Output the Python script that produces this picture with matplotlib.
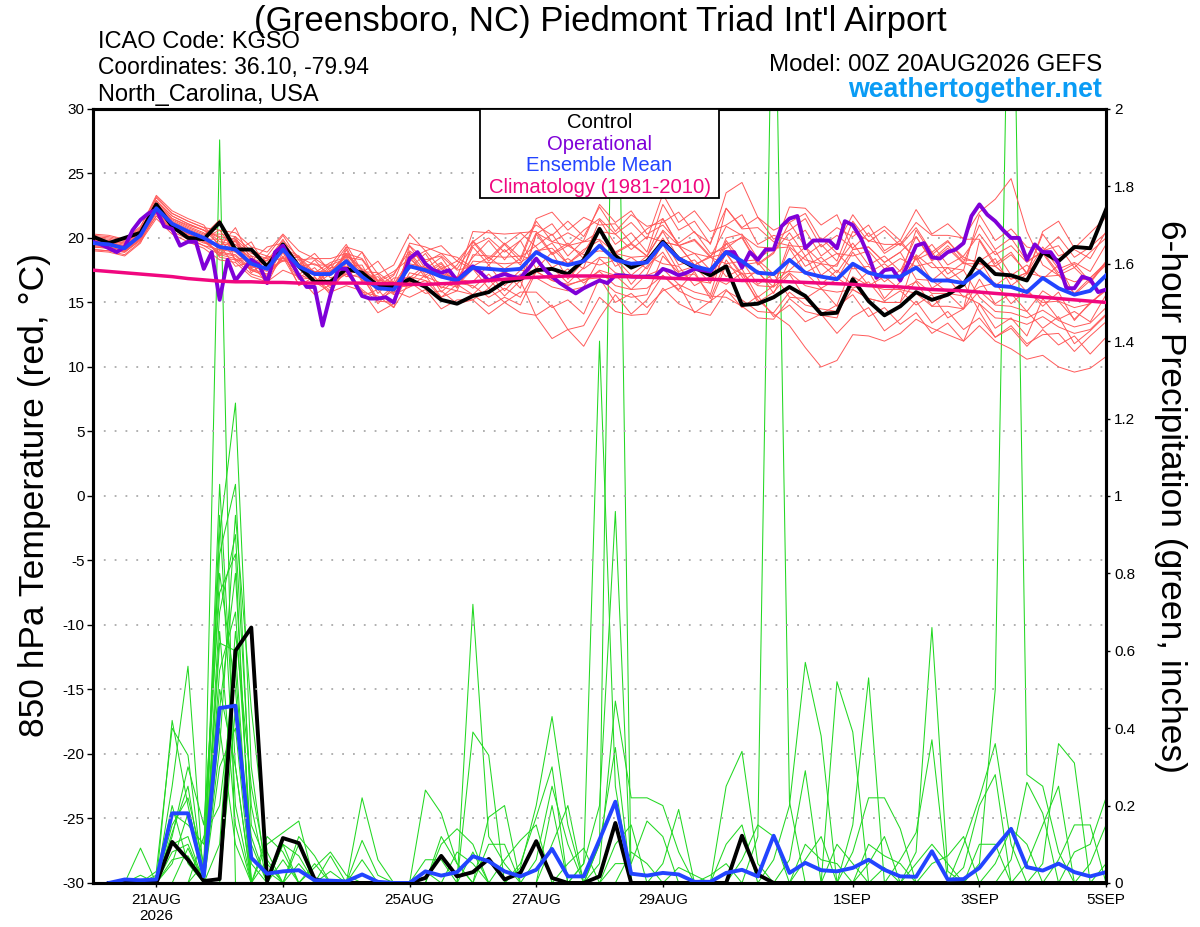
import numpy as np
import pandas as pd
import matplotlib
matplotlib.use("Agg")
import matplotlib.pyplot as plt
from matplotlib.patches import Rectangle

plt.rcParams["font.family"] = ["Liberation Sans", "DejaVu Sans"]
plt.rcParams["axes.unicode_minus"] = False

# GEFS run 00Z 20AUG2026: members every 6 h, operational every 3 h
times = pd.date_range("2026-08-20 00:00", periods=65, freq="6h")
op_times = pd.date_range("2026-08-20 00:00", periods=129, freq="3h")

def vals(s):
    return np.array(s.split(), dtype=float)

# 850 hPa temperature (C)
control_t = vals("20.1 19.6 20.0 20.4 22.6 20.9 20.0 19.9 21.2 19.1 19.1 17.8 19.5 17.8 16.6 16.6 17.6 17.3 16.3 16.2 "
                 "16.8 16.2 15.2 14.9 15.5 15.8 16.6 16.8 17.5 17.6 17.2 18.3 20.7 18.6 17.7 18.2 19.7 18.4 17.7 17.1 "
                 "17.8 14.8 14.9 15.4 16.2 15.5 14.1 14.2 16.8 15.1 14.0 14.7 15.8 15.2 15.6 16.4 18.4 17.2 17.1 16.7 "
                 "18.9 18.2 19.3 19.2 22.2")
mean_t = vals("19.6 19.5 19.2 20.2 22.3 21.1 20.5 20.0 19.3 19.1 18.0 17.6 19.1 17.8 17.2 17.2 18.2 17.0 16.1 16.0 "
              "17.8 17.5 17.0 16.7 17.7 17.6 17.5 17.6 18.9 18.2 17.9 18.2 19.4 18.3 18.0 18.1 19.6 18.4 17.8 17.5 "
              "18.9 18.2 17.3 17.2 18.3 17.3 17.0 16.8 18.0 17.3 17.0 17.0 17.7 16.7 16.7 16.5 17.4 16.3 16.2 15.8 "
              "16.9 16.1 15.6 15.9 17.1")
clim_t = vals("17.5 17.4 17.3 17.2 17.1 17.0 16.85 16.75 16.65 16.6 16.6 16.55 16.55 16.5 16.5 16.5 16.5 16.5 16.45 16.45 "
              "16.4 16.4 16.45 16.5 16.6 16.7 16.8 16.9 16.95 17.0 17.05 17.05 17.05 17.0 17.0 16.95 16.9 16.85 16.8 16.8 "
              "16.75 16.7 16.7 16.65 16.6 16.55 16.5 16.45 16.4 16.3 16.25 16.2 16.1 16.0 15.95 15.9 15.8 15.7 15.6 15.5 "
              "15.4 15.3 15.2 15.1 15.0")
oper_t = vals("19.7 19.5 19.2 18.9 19.3 20.6 21.4 21.9 22.2 20.9 20.7 19.4 19.7 19.7 17.6 18.9 15.2 18.3 16.7 17.5 "
              "18.3 17.9 16.5 18.9 19.4 18.2 17.1 16.2 16.2 13.2 15.6 17.6 17.6 16.6 15.5 15.3 15.3 15.4 15.0 16.7 "
              "18.4 18.9 18.0 17.5 17.3 17.5 16.7 17.3 17.8 17.3 16.7 17.0 17.2 17.0 16.9 17.6 18.4 17.6 17.0 16.5 "
              "16.1 15.7 16.1 16.4 16.7 16.5 17.1 17.1 17.0 17.0 17.0 17.0 17.6 17.4 17.1 17.3 17.6 17.5 17.4 18.2 "
              "18.9 18.9 17.7 18.9 18.3 19.1 19.1 20.9 21.5 21.7 19.2 19.8 19.8 19.8 19.2 21.3 21.0 20.0 18.6 16.9 "
              "17.5 17.6 16.7 18.0 19.4 19.6 18.5 18.4 18.9 19.1 19.6 21.7 22.6 21.8 21.3 20.6 20.0 20.0 18.3 19.5 "
              "18.9 18.9 18.0 16.1 16.1 17.0 16.8 15.8 16.0")

member_t = [
    "19.9 19.7 19.6 20.5 22.9 21.5 21.0 20.6 19.5 19.5 18.3 17.9 19.2 18.6 17.3 18.1 18.5 18.3 16.6 17.2 19.0 18.1 18.8 17.6 19.4 20.0 18.9 19.8 21.0 20.2 21.3 20.1 22.4 20.5 21.8 20.9 21.2 22.0 20.4 19.6 22.3 20.8 21.6 19.9 20.6 21.5 19.3 20.2 19.2 20.4 18.8 19.6 18.4 19.5 17.9 18.6 20.3 18.7 19.4 18.1 19.0 20.1 18.5 19.3 20.4",
    "19.1 19.0 18.9 19.8 21.7 20.7 20.0 19.4 18.7 18.4 17.5 17.0 18.6 16.8 16.9 15.9 17.5 15.8 15.5 14.6 16.6 15.7 15.9 14.9 15.2 16.1 15.0 15.8 15.8 14.6 15.2 14.1 16.9 15.0 15.7 14.6 15.9 16.4 14.2 15.1 16.0 14.6 15.5 13.9 14.8 13.5 14.1 12.6 13.9 14.6 12.8 13.7 15.1 13.4 14.3 12.9 13.8 12.3 13.0 11.6 12.9 11.7 12.4 11.0 12.3",
    "19.8 19.6 19.4 20.4 23.2 21.9 21.3 20.8 20.6 18.9 19.7 17.6 18.2 18.6 16.4 17.5 17.6 18.9 16.2 17.1 19.4 17.6 18.5 16.8 16.6 17.9 16.3 17.5 17.4 16.7 16.3 16.8 16.9 15.8 15.4 15.6 18.6 17.3 16.7 16.5 18.8 17.0 15.2 14.1 13.2 11.5 10.0 10.5 12.5 12.4 12.0 12.6 13.7 13.0 12.5 12.0 13.2 12.0 11.4 10.6 10.9 10.0 9.6 9.9 10.8",
    "20.2 20.1 19.8 20.8 23.3 22.1 21.5 21.0 19.3 20.8 18.2 19.3 19.6 17.9 18.8 17.4 18.7 17.3 18.2 16.5 17.6 18.8 16.9 17.9 19.8 18.4 19.6 18.5 19.4 20.3 18.6 19.8 22.6 21.2 22.1 20.3 21.0 19.6 20.5 18.8 19.2 20.1 18.0 18.9 20.4 18.6 19.5 18.2 21.3 19.7 20.6 19.4 20.8 18.9 19.8 18.3 18.2 19.0 17.1 17.9 16.8 17.9 15.6 16.7 17.9",
    "19.1 19.0 18.7 19.7 21.5 20.3 19.7 19.2 18.3 18.1 17.0 16.6 17.5 17.0 15.6 16.4 17.2 16.9 15.2 15.9 15.4 16.0 14.5 15.2 15.2 14.1 15.0 14.2 14.0 14.8 12.9 11.6 13.8 15.6 14.1 15.2 17.1 16.0 17.4 15.3 18.3 16.6 17.5 15.7 18.2 19.3 17.1 18.0 19.6 17.9 18.6 17.4 20.1 18.3 19.4 18.1 21.0 19.1 20.0 18.2 18.9 17.3 18.0 16.6 18.2",
    "19.7 19.6 19.3 20.3 22.0 20.8 20.2 19.7 18.8 19.9 17.6 18.5 18.9 17.1 18.3 16.9 17.3 17.4 15.2 16.3 16.2 17.1 15.4 16.4 15.6 16.8 15.5 16.7 13.9 12.2 12.9 13.2 15.4 14.3 14.0 14.1 16.1 14.9 14.3 14.0 15.9 15.2 14.3 14.2 15.8 14.8 14.5 14.3 16.0 15.3 15.0 15.0 16.7 15.7 15.7 15.5 14.9 13.8 13.7 13.3 13.9 13.1 12.6 12.9 14.1",
    "20.1 20.0 19.7 20.7 22.6 21.4 20.8 20.3 20.3 20.1 19.0 18.6 20.2 18.3 18.4 17.6 19.3 18.9 17.2 17.9 20.3 19.0 19.4 18.2 19.7 20.6 19.5 20.4 20.5 18.8 19.6 18.4 21.4 19.5 20.4 18.9 22.6 20.6 21.3 19.5 23.5 24.3 21.6 20.6 21.2 21.9 19.8 20.8 20.1 21.0 19.0 19.8 22.2 20.3 21.1 19.9 19.9 18.0 18.9 17.2 18.8 17.1 17.7 16.5 18.1",
    "19.4 19.3 19.0 20.0 22.5 21.3 20.7 20.2 21.4 18.2 18.4 16.8 19.3 16.8 17.4 16.1 19.1 16.7 17.0 15.7 18.9 17.4 18.1 16.6 19.3 17.9 19.1 17.9 20.4 19.7 19.4 19.7 19.9 18.8 18.5 18.6 20.6 19.4 18.8 18.5 20.9 20.2 19.3 19.2 19.3 18.3 18.0 17.8 20.5 19.8 19.5 19.5 21.2 20.2 20.2 20.0 22.0 23.0 24.6 20.5 17.9 17.1 16.6 16.9 18.1",
    "19.6 19.5 19.2 20.2 22.1 20.9 20.3 19.8 18.8 18.6 17.5 17.1 18.5 17.2 16.6 16.6 17.2 16.0 15.1 15.0 17.3 17.0 16.5 16.2 18.2 18.1 18.0 18.1 18.9 19.6 18.0 18.9 20.8 18.9 19.6 18.6 18.0 17.8 16.3 17.0 16.4 17.3 15.0 15.8 17.2 15.3 16.1 14.7 15.6 13.9 14.6 13.3 14.2 12.6 13.4 12.0 14.9 13.0 13.8 12.4 15.3 13.7 14.3 13.5 15.6",
    "20.0 19.9 19.6 20.6 22.9 21.7 21.1 20.6 20.1 19.9 18.8 18.4 19.0 18.5 17.1 17.9 19.5 17.4 17.3 16.4 18.3 19.0 17.6 18.2 17.6 16.8 17.4 16.7 20.3 21.1 19.4 20.6 21.5 20.3 21.2 19.9 23.4 21.2 22.1 20.5 21.0 21.8 19.5 20.2 19.8 20.6 18.6 19.5 21.8 20.1 20.9 19.8 18.3 18.9 17.2 18.1 17.5 18.4 16.3 17.2 20.5 21.3 19.2 20.4 21.6",
    "19.3 19.2 18.9 19.9 21.7 20.5 19.9 19.4 19.1 18.9 17.8 17.4 19.3 18.0 17.4 17.4 18.7 17.5 16.6 16.5 17.0 16.7 16.2 15.9 18.7 18.6 18.5 18.6 18.3 16.8 17.6 16.5 17.5 17.1 16.0 17.2 19.7 19.4 17.9 18.6 17.0 17.6 15.4 16.3 19.2 17.3 18.0 16.9 16.1 16.6 15.1 15.9 14.8 15.6 13.8 14.5 16.8 14.9 15.7 14.3 13.0 13.9 11.8 12.8 14.0",
    "19.8 19.7 19.4 20.4 22.4 21.2 20.6 20.1 18.5 18.3 17.2 16.8 18.5 16.4 16.6 15.8 16.3 15.9 14.2 14.9 19.4 18.3 18.6 17.5 17.8 18.5 17.6 18.4 21.5 22.0 20.6 21.6 21.0 21.1 19.6 20.7 21.5 19.4 19.9 18.6 19.5 20.0 17.9 18.8 21.2 19.3 20.0 18.8 18.6 19.0 17.6 18.4 17.8 18.1 16.8 17.5 21.8 19.8 20.7 19.3 19.0 19.4 17.7 18.9 20.0",
    "19.5 19.4 19.1 20.1 22.7 21.5 20.9 20.4 19.0 20.1 17.7 18.6 18.2 18.3 16.4 17.7 17.8 17.9 15.7 16.9 16.9 17.9 16.1 17.0 16.1 17.2 15.9 17.2 16.9 16.2 15.9 16.2 18.4 17.3 17.0 17.1 17.6 16.4 15.8 15.5 15.4 14.7 13.8 13.7 15.3 14.3 14.0 13.8 17.0 16.3 16.0 16.0 15.7 14.7 14.7 14.5 15.9 14.8 14.7 14.3 15.9 15.1 14.6 14.9 16.1",
    "20.3 20.2 19.9 20.9 23.1 21.9 21.3 20.8 19.7 19.5 18.4 18.0 19.8 18.5 17.9 17.9 18.4 17.2 16.3 16.2 18.0 17.7 17.2 16.9 20.5 20.4 20.3 20.4 19.3 17.7 18.4 17.6 18.5 18.4 17.1 18.1 20.0 17.9 18.3 17.0 20.0 20.3 18.4 19.2 22.4 22.3 21.0 21.8 19.1 19.3 18.1 18.9 16.8 16.7 15.8 16.5 18.3 16.3 17.2 15.8 15.0 15.1 13.7 14.9 16.0",
    "19.0 18.9 18.6 19.6 22.1 20.9 20.3 19.8 18.9 18.7 17.6 17.2 18.3 17.8 16.4 17.2 18.6 16.6 16.5 15.6 16.2 16.7 15.4 15.9 15.6 14.7 15.4 14.8 17.4 16.7 16.4 16.7 17.4 16.3 16.0 16.1 17.1 15.9 15.3 15.0 17.9 17.2 16.3 16.2 17.3 16.3 16.0 15.8 16.0 15.3 15.0 15.0 18.7 17.7 17.7 17.5 15.4 14.3 14.2 13.8 14.4 13.6 13.1 13.4 14.6",
    "19.7 19.6 19.3 20.3 22.3 21.1 20.5 20.0 20.6 20.4 19.3 18.9 20.3 19.0 18.4 18.4 18.8 17.6 16.7 16.6 19.6 19.3 18.8 18.5 17.7 17.6 17.5 17.6 19.0 19.2 18.0 19.1 19.8 17.8 18.5 17.6 19.5 17.4 17.8 16.5 19.8 18.2 18.3 17.2 17.4 17.3 16.1 16.8 18.9 17.3 18.0 17.0 20.6 18.7 19.7 18.5 18.0 17.8 16.8 17.3 17.0 17.1 15.7 16.9 18.0",
    "19.4 19.3 19.0 20.0 21.9 20.7 20.1 19.6 19.4 17.8 18.1 16.4 18.9 16.3 17.0 15.6 18.1 15.5 16.0 14.6 18.8 17.1 18.0 16.3 17.6 16.1 17.4 16.1 20.3 18.7 19.4 18.7 19.0 18.8 17.6 18.6 21.5 19.4 19.8 18.5 18.0 18.2 16.4 17.2 15.4 15.3 14.1 14.8 17.9 16.3 17.0 16.0 16.6 14.7 15.7 14.5 19.8 17.8 18.7 17.3 20.3 18.6 19.1 18.4 20.5",
    "19.9 19.8 19.5 20.5 22.3 21.1 20.5 20.0 18.6 19.8 17.3 18.3 18.4 18.5 16.5 17.9 17.0 17.2 14.9 16.2 16.6 17.7 15.8 16.9 18.5 19.8 18.3 19.8 17.6 18.9 16.8 18.2 17.9 18.3 16.4 17.8 18.9 17.0 17.2 15.6 19.6 17.9 18.1 16.6 17.5 18.6 16.4 17.5 16.3 17.4 15.3 16.6 18.4 16.1 16.9 15.4 16.2 16.5 14.9 16.0 14.7 15.8 13.6 15.0 15.9",
    "19.3 19.2 18.9 19.9 22.2 21.0 20.4 19.9 19.9 19.7 18.6 18.2 19.9 17.8 18.0 17.2 18.8 18.4 16.7 17.4 18.4 17.3 17.6 16.5 16.3 15.4 16.1 15.4 17.5 17.7 16.5 17.7 20.8 18.8 19.5 18.6 20.5 18.4 18.8 17.5 22.3 20.7 20.8 19.7 19.4 19.3 18.1 18.8 17.6 17.8 16.6 17.5 18.6 16.7 17.7 16.5 14.3 12.3 13.2 11.8 12.5 12.6 11.2 12.4 13.5",
    "19.6 19.5 19.2 20.2 22.9 21.7 21.1 20.6 20.0 18.3 18.6 16.8 19.6 16.9 17.7 16.3 19.3 16.7 17.2 15.7 18.6 16.9 17.8 16.1 19.7 18.2 19.5 18.2 21.3 19.7 20.4 19.7 20.5 20.3 19.1 20.1 19.7 19.4 17.9 18.5 18.8 17.2 17.3 16.2 19.7 17.8 18.5 17.3 19.1 19.3 18.1 18.9 20.1 18.2 19.2 18.0 18.0 17.8 16.8 17.3 19.3 17.6 18.1 17.4 19.5",
]

# 6-hour precipitation (inches)
control_p = vals("0 0 0 0 0 .106 .06 .005 .01 .6 .66 .005 .116 .103 .01 0 0 0 0 0 "
                 "0 .013 .07 .017 .028 .062 .009 .026 .108 .013 0 0 .017 .155 0 0 0 0 0 0 "
                 "0 .122 .022 0 0 0 0 0 0 0 0 0 0 0 0 0 0 0 0 0 0 0 0 0 0")
mean_p = vals("0 0 .009 .007 .009 .18 .18 .017 .452 .458 .065 .024 .03 .033 .007 .006 .004 .022 .003 0 "
              "0 .03 .019 .028 .069 .056 .03 .017 .034 .088 .017 .017 .112 .21 .024 .019 .026 .022 .003 .003 "
              ".026 .034 .017 .122 .026 .052 .033 .03 .039 .06 .034 .017 .016 .082 .009 .01 .039 .091 .14 .041 "
              ".032 .05 .028 .017 .028")

member_p = [
    "0 0 0 .09 0 .42 .2 .02 1.92 0 0 0 0 0 0 0 0 0 0 0 0 0 0 0 .72 .12 .05 0 0 0 0 0 0 0 0 0 0 0 0 0 0 0 0 0 0 0 0 0 .08 .22 .22 .14 0 0 0 0 0 0 0 0 0 0 0 .05 .15",
    "0 0 0 0 .03 .4 .33 0 1.03 .3 0 .1 .13 .16 0 .07 0 0 0 0 0 0 0 0 0 0 0 .04 .2 .43 .15 0 0 0 0 0 0 0 0 0 0 0 0 0 0 0 0 0 0 0 .04 0 .08 .66 .03 0 0 0 0 0 0 0 0 0 0",
    "0 0 0 0 0 .25 .56 0 .9 1.24 .3 0 0 .1 0 0 0 0 0 0 0 0 0 0 0 0 0 0 0 .1 .2 0 0 0 0 0 0 0 0 0 0 0 0 .06 .2 .57 .38 0 0 0 0 0 0 0 0 0 0 0 0 0 0 0 0 0 0",
    "0 0 0 0 0 .18 .15 .1 .85 1.03 .15 .05 0 0 0 0 0 .22 .06 0 0 0 0 0 0 0 0 0 0 0 0 .05 1.4 .25 0 0 0 0 0 0 0 0 0 0 0 0 0 .52 .39 0 0 0 0 0 0 0 0 0 0 0 0 0 0 0 0",
    "0 0 0 .02 0 .15 .22 .05 .8 .5 0 0 .1 0 0 0 0 0 0 0 0 .24 .18 .05 0 0 0 0 0 0 0 0 .1 2.7 0 0 0 0 0 0 0 0 0 0 0 0 0 0 0 0 0 0 0 0 0 0 .05 .5 2.8 .28 .25 .08 0 0 0",
    "0 0 0 0 0 .12 .3 .15 .75 .85 0 0 0 .12 .07 0 0 0 0 0 0 0 0 0 .39 .33 0 0 0 0 0 0 0 .1 .15 0 0 0 0 0 0 0 .12 2.6 .21 0 0 0 0 0 0 0 0 0 0 0 0 0 0 0 0 0 0 0 0",
    "0 0 0 0 .02 .1 .12 0 .7 .9 .2 0 0 0 0 0 0 0 0 0 0 0 .1 .14 .1 0 0 0 0 0 0 0 0 0 0 0 .05 .19 0 0 0 0 0 0 0 0 0 0 0 0 0 .06 .13 .37 0 0 0 0 0 0 0 0 0 0 0",
    "0 0 0 0 0 .08 .1 0 .62 .6 0 .12 .08 0 0 0 0 0 0 0 0 0 0 0 0 .17 .2 0 0 0 0 0 0 0 0 0 0 0 0 0 .25 .34 .05 0 0 0 0 0 0 0 0 0 0 0 0 0 0 0 .06 .26 .18 0 0 0 0",
    "0 0 0 0 0 .06 .07 0 .55 .7 .1 0 0 .05 0 0 0 .11 .02 0 0 0 0 0 0 0 0 .05 .17 .3 0 0 0 0 0 0 0 0 0 0 0 0 0 0 .06 .29 0 0 0 0 0 0 0 0 0 0 0 0 0 0 .05 .36 .31 0 0",
    "0 0 0 0 0 .05 .18 0 .45 .8 .05 0 0 0 .04 .08 .02 0 0 0 0 0 0 0 0 0 0 0 .06 .25 .1 0 0 0 0 0 0 0 0 0 0 0 0 0 0 .1 .06 .05 0 0 0 0 0 0 0 0 0 0 0 0 0 .06 .15 .15 0",
    "0 0 0 0 0 .2 .05 0 .35 .95 .45 .08 0 0 0 0 0 0 0 0 0 .06 .06 0 0 0 0 0 0 0 0 .05 .2 .96 0 0 0 0 0 0 0 0 0 0 0 0 0 0 .15 .53 0 0 0 0 0 0 0 0 0 0 0 0 0 0 .05",
    "0 0 0 0 0 .13 .25 0 .3 .4 0 0 .06 0 0 0 0 0 0 0 0 0 0 .08 .05 0 0 0 0 0 0 0 .05 .47 .22 .22 .2 .08 0 0 0 0 0 0 0 0 0 0 0 0 0 0 0 0 0 0 0 0 0 0 0 0 0 0 0",
    "0 0 0 0 0 0 .09 0 .95 .2 0 0 0 0 .05 0 0 0 0 0 0 0 .12 .05 0 0 0 0 0 0 0 0 0 .05 .05 .16 .12 0 0 0 0 0 0 0 0 0 0 0 0 0 0 0 0 0 0 .1 .22 .36 .1 0 0 0 0 0 0",
    "0 0 0 0 0 0 0 .12 .2 .55 0 0 0 0 0 .03 0 0 0 0 0 0 0 0 0 .1 .1 0 0 0 0 0 0 0 0 0 0 .04 .02 0 0 0 0 0 0 0 0 0 0 .05 .12 0 0 0 0 0 0 0 0 0 0 0 .08 .1 .22",
    "0 0 0 0 0 0 0 .05 .5 .3 0 0 0 0 0 0 0 .06 0 0 0 0 0 0 .08 0 0 0 0 0 0 0 0 0 0 0 0 0 0 .02 .05 0 0 0 0 0 0 0 0 0 0 0 .05 .1 .05 0 0 0 0 0 0 0 0 0 0",
    "0 0 0 0 0 0 0 0 .1 .65 .25 .03 0 0 0 0 0 0 0 0 0 0 0 0 0 0 .06 .11 .15 0 0 0 0 0 0 0 0 0 0 0 .1 .15 0 0 0 0 0 0 0 0 0 0 0 .05 .07 .12 0 0 0 0 0 0 0 0 0",
    "0 0 0 0 0 0 0 0 .65 .15 0 0 .1 .07 0 0 0 0 0 0 0 0 0 0 0 0 0 0 0 .2 0 0 0 0 0 0 0 0 0 0 0 .06 .15 .12 0 0 0 0 0 0 0 0 0 0 0 .04 .2 .28 0 0 0 0 0 0 0",
    "0 0 0 0 0 0 0 0 .4 .1 0 0 0 0 0 0 0 0 0 0 0 .03 0 0 0 0 0 0 0 0 .05 .09 0 0 0 0 0 0 0 0 0 0 0 0 0 .06 .12 0 0 0 0 0 0 0 0 0 .1 .1 0 0 0 0 0 0 0",
    "0 0 0 0 0 0 0 0 0 .45 .12 0 0 0 0 0 0 0 0 0 0 0 0 0 0 0 0 0 0 0 0 0 .1 .35 0 0 0 0 0 0 0 0 0 0 0 0 0 .1 .05 0 0 0 0 0 0 0 0 .05 .14 .1 0 0 0 0 0",
    "0 0 0 0 0 0 0 0 0 0 0 .06 0 0 0 0 0 0 0 0 0 0 0 0 0 0 0 0 0 0 0 0 0 0 .08 .05 0 0 0 0 0 0 0 0 0 0 0 0 0 .1 .07 .05 0 0 0 0 0 0 0 .05 .15 .25 0 0 0",
]

tick_dates = pd.to_datetime(["2026-08-21", "2026-08-23", "2026-08-25", "2026-08-27",
                             "2026-08-29", "2026-09-01", "2026-09-03", "2026-09-05"])
tick_labels = ["21AUG\n2026", "23AUG", "25AUG", "27AUG", "29AUG", "1SEP", "3SEP", "5SEP"]
precip_ticks = [0, 0.2, 0.4, 0.6, 0.8, 1.0, 1.2, 1.4, 1.6, 1.8, 2.0]
precip_labels = ["0", "0.2", "0.4", "0.6", "0.8", "1", "1.2", "1.4", "1.6", "1.8", "2"]

RED = "#ff5a5a"
GREEN = "#22d822"
PURPLE = "#7f00d8"
BLUE = "#2244ff"
PINK = "#f0077f"

fig = plt.figure(figsize=(12, 9.27), dpi=100)
ax = fig.add_axes([0.0775, 0.0475, 0.8442, 0.8350])
ax2 = ax.twinx()
ax.set_zorder(2)
ax2.set_zorder(1)
ax.patch.set_visible(False)

# precipitation (right axis)
for s in member_p:
    ax2.plot(times[1:], vals(s)[1:], color=GREEN, lw=0.75, zorder=2)
ax2.plot(times[1:], control_p[1:], color="black", lw=2.8, zorder=5)
ax2.plot(times[1:], mean_p[1:], color=BLUE, lw=2.8, zorder=6)

# temperature (left axis)
for s in member_t:
    ax.plot(times, vals(s), color=RED, lw=0.7, zorder=2)
ax.plot(times, control_t, color="black", lw=2.8, zorder=5)
ax.plot(op_times, oper_t, color=PURPLE, lw=2.8, zorder=6)
ax.plot(times, mean_t, color=BLUE, lw=2.8, zorder=7)
ax.plot(times, clim_t, color=PINK, lw=2.5, zorder=8)

ax.set_xlim(times[0], times[-1])
ax.set_ylim(-30, 30)
ax2.set_ylim(0, 2)
ax.set_yticks(range(-30, 31, 5))
ax.set_xticks(tick_dates, tick_labels)
ax2.set_yticks(precip_ticks, precip_labels)
ax.grid(axis="y", color="#aaaaaa", linestyle=(0, (1, 5)), lw=1.3)

ax.tick_params(axis="y", direction="out", length=4.5, width=1, labelsize=11, pad=1.5)
ax.tick_params(axis="x", direction="out", length=3, width=1, labelsize=11, pad=4)
ax2.tick_params(axis="y", direction="out", length=3, width=1, labelsize=11, pad=3)
for a in (ax, ax2):
    for sp in a.spines.values():
        sp.set_linewidth(2.2)

# legend box
ax.add_patch(Rectangle((0.382, 0.885), 0.236, 0.115, transform=ax.transAxes,
                       facecolor="white", edgecolor="black", lw=1.3, zorder=20, clip_on=False))
legend_items = [("Control", "black"), ("Operational", PURPLE),
                ("Ensemble Mean", BLUE), ("Climatology (1981-2010)", PINK)]
for k, (txt, col) in enumerate(legend_items):
    ax.text(0.5, 0.982 - 0.0277 * k, txt, color=col, fontsize=14.6, ha="center", va="center",
            transform=ax.transAxes, zorder=21)

fig.text(0.5, 1 - 31 / 927, "(Greensboro, NC) Piedmont Triad Int'l Airport",
         ha="center", va="baseline", fontsize=25)
fig.text(98 / 1200, 1 - 48 / 927, "ICAO Code: KGSO", ha="left", va="baseline", fontsize=17)
fig.text(98 / 1200, 1 - 74 / 927, "Coordinates: 36.10, -79.94", ha="left", va="baseline", fontsize=16.5)
fig.text(98 / 1200, 1 - 101 / 927, "North_Carolina, USA", ha="left", va="baseline", fontsize=17)
fig.text(1102 / 1200, 1 - 71 / 927, "Model: 00Z 20AUG2026 GEFS", ha="right", va="baseline", fontsize=17.4)
fig.text(1102 / 1200, 1 - 97 / 927, "weathertogether.net", ha="right", va="baseline",
         fontsize=19.3, fontweight="bold", color="#0a9cf5")

fig.text(35 / 1200, 1 - 495 / 927, "850 hPa Temperature (red, °C)", rotation=90,
         ha="center", va="center", fontsize=25.5)
fig.text(1171 / 1200, 1 - 496 / 927, "6-hour Precipitation (green, inches)", rotation=270,
         ha="center", va="center", fontsize=25.5)

fig.savefig("out.png", dpi=100)
